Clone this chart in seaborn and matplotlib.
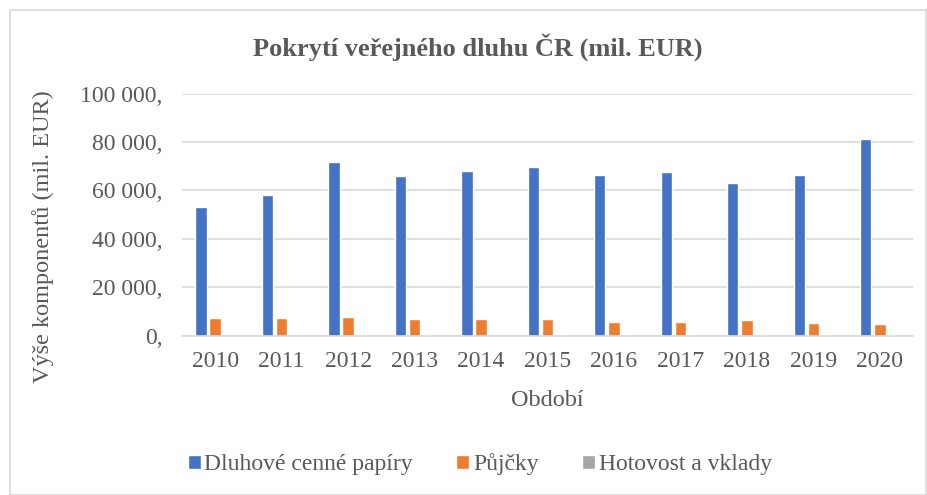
import pandas as pd
import matplotlib.pyplot as plt
import seaborn as sns
from matplotlib.patches import Rectangle
from matplotlib.ticker import FuncFormatter

# === Data (mil. EUR) ===
years = ["2010", "2011", "2012", "2013", "2014", "2015", "2016", "2017", "2018", "2019", "2020"]
securities = [53300, 57900, 71600, 66100, 67800, 69600, 66500, 67400, 63100, 66300, 81100]
loans = [7400, 7400, 7700, 6900, 6700, 6700, 5500, 5500, 6600, 5200, 4600]
cash = [700, 700, 200, 200, 600, 100, 100, 100, 100, 100, 100]
series_names = ["Dluhové cenné papíry", "Půjčky", "Hotovost a vklady"]
colors = ["#4472C4", "#ED7D31", "#A5A5A5"]

df = pd.DataFrame({
    "Období": years * 3,
    "Hodnota": securities + loans + cash,
    "Složka": [series_names[0]] * 11 + [series_names[1]] * 11 + [series_names[2]] * 11,
})

# === Style ===
sns.set_style("white")
plt.rcParams["font.family"] = ["Liberation Serif", "DejaVu Serif"]
text_col = "#595959"

fig = plt.figure(figsize=(9.28, 4.95), dpi=100)
ax = fig.add_axes([0.196, 0.322, 0.788, 0.489])

sns.barplot(data=df, x="Období", y="Hodnota", hue="Složka", palette=colors,
            saturation=1, width=0.64, gap=0.2, ax=ax, legend=True)

# === Axes ===
ax.set_ylim(0, 100000)
ax.set_yticks(range(0, 100001, 20000))
ax.yaxis.set_major_formatter(FuncFormatter(lambda v, p: f"{v:,.0f}".replace(",", " ") + ","))
ax.grid(axis="y", color="#d9d9d9", linewidth=1.2)
ax.set_axisbelow(True)
for s in ["top", "right", "left"]:
    ax.spines[s].set_visible(False)
ax.spines["bottom"].set_color("#d9d9d9")
ax.spines["bottom"].set_linewidth(1.2)
ax.tick_params(axis="both", length=0, labelsize=17, colors=text_col)
ax.tick_params(axis="x", pad=11)
ax.tick_params(axis="y", pad=14)
ax.set_xlabel("Období", fontsize=17.5, color=text_col)
ax.set_ylabel("Výše komponentů (mil. EUR)", fontsize=17.5, color=text_col)
ax.xaxis.label.set_va("center")
ax.yaxis.label.set_va("center")
ax.xaxis.set_label_coords(0.5, -0.27)
ax.yaxis.set_label_coords(-0.19, 0.41)

# === Title ===
fig.text(0.515, 0.905, "Pokrytí veřejného dluhu ČR (mil. EUR)", ha="center", va="center",
         fontsize=19, fontweight="bold", color=text_col)

# === Legend ===
handles, labels = ax.get_legend_handles_labels()
ax.legend_.remove()
fig.legend(handles, labels, loc="center", bbox_to_anchor=(0.517, 0.062), ncol=3,
           frameon=False, fontsize=17, handlelength=0.55, handleheight=0.55,
           handletextpad=0.15, columnspacing=1.85, labelcolor=text_col)

# === Chart border ===
fig.patches.append(Rectangle((10 / 928, 0.0), 916 / 928, 1 - 10 / 495, transform=fig.transFigure,
                             fill=False, edgecolor="#d9d9d9", linewidth=1.2))

fig.savefig("out.png", dpi=100)
